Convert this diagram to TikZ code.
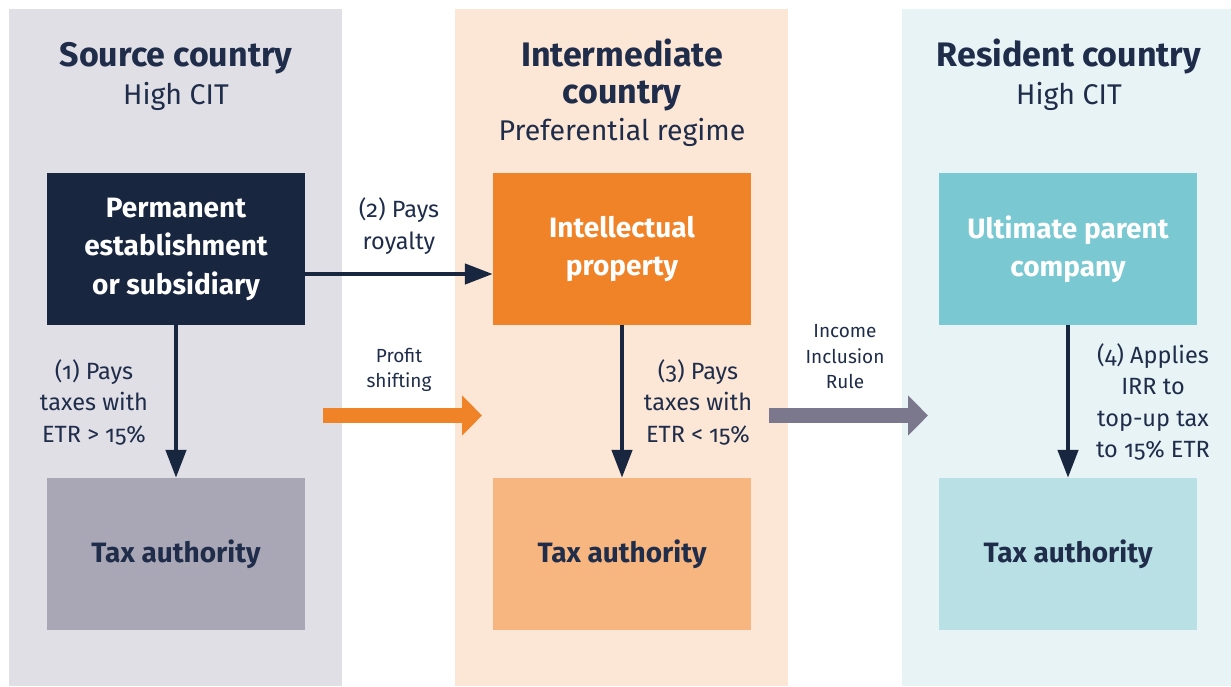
\documentclass[tikz,border=0pt]{standalone}
\usepackage{fontspec}
\setmainfont{Fira Sans}[Numbers=OldStyle]
\usepackage{tikz}
\usetikzlibrary{positioning, arrows.meta}
\definecolor{navy}{HTML}{19263F}
\definecolor{inktext}{HTML}{1F2D4A}
\definecolor{srcbg}{HTML}{E0DFE6}
\definecolor{srcta}{HTML}{A9A7B6}
\definecolor{intbg}{HTML}{FCE6D5}
\definecolor{ipbox}{HTML}{F08228}
\definecolor{intta}{HTML}{F7B67F}
\definecolor{resbg}{HTML}{E7F3F5}
\definecolor{upbox}{HTML}{7AC8D1}
\definecolor{resta}{HTML}{B8E0E5}
\definecolor{iirgray}{HTML}{7B778D}
\tikzset{entity/.style={minimum width=258pt, minimum height=152pt, inner sep=0pt, align=center, font=\bfseries\fontsize{28}{38.5}\selectfont},
         title/.style={anchor=base, text=inktext, font=\bfseries\fontsize{34}{37}\selectfont, inner sep=0pt},
         subtitle/.style={anchor=base, text=inktext, font=\fontsize{28.5}{30}\selectfont, inner sep=0pt},
         lbl/.style={align=center, text=inktext, font=\fontsize{23.5}{31.5}\selectfont, inner sep=0pt},
         smlbl/.style={align=center, text=inktext, font=\fontsize{19}{25.5}\selectfont, inner sep=0pt},
         pays/.style={draw=navy, line width=4.5pt, -{Triangle[length=28pt, width=20pt]}},
         fat/.style={line width=15pt, -{Triangle[length=20pt, width=39pt]}}}
\begin{document}
\begin{tikzpicture}[x=1pt, y=-1pt]
                \useasboundingbox (0,0) rectangle (1231,686);

                % country columns
                \fill[srcbg] (9,9) rectangle (342,686);
                \fill[intbg] (455,9) rectangle (788,686);
                \fill[resbg] (902,9) rectangle (1231,686);

                \node[title] (srctitle) at (176,66) {Source country};
                \node[subtitle] (srcsub) at (176,104) {High CIT};
                \node[title] (inttitle) at (622,66) {Intermediate};
                \node[title] (inttitle2) at (622,103) {country};
                \node[subtitle] (intsub) at (622,140) {Preferential regime};
                \node[title] (restitle) at (1069,66) {Resident country};
                \node[subtitle] (ressub) at (1069,104) {High CIT};

                % entities
                \node[entity, fill=navy, text=white] (pe) at (176,249) {Permanent\\establishment\\or subsidiary};
                \node[entity, fill=srcta, text=inktext] (srcta) at (176,554) {Tax authority};
                \node[entity, fill=ipbox, text=white] (ip) at (622,249) {Intellectual\\property};
                \node[entity, fill=intta, text=inktext] (intta) at (622,554) {Tax authority};
                \node[entity, fill=upbox, text=white] (upc) at (1068,249) {Ultimate parent\\company};
                \node[entity, fill=resta, text=inktext] (resta) at (1068,554) {Tax authority};

                % flows
                \draw[pays] ([yshift=-25pt]pe.east) -- ([yshift=-25pt]ip.west);
                \draw[pays] (pe.south) -- (srcta.north);
                \draw[pays] (ip.south) -- (intta.north);
                \draw[pays] (upc.south) -- (resta.north);

                \coordinate (psfrom) at (323,415.5);
                \coordinate (psto) at (482,415.5);
                \coordinate (iirfrom) at (769,415.5);
                \coordinate (iirto) at (928,415.5);
                \draw[fat, draw=ipbox, fill=ipbox] (psfrom) -- (psto);
                \draw[fat, draw=iirgray, fill=iirgray] (iirfrom) -- (iirto);

                % labels
                \node[lbl] (royalty) at (399,226) {(2) Pays\\royalty};
                \node[lbl] (paysone) at (94,402) {(1) Pays\\taxes with\\ETR > 15\%};
                \node[lbl] (paysthree) at (698,402) {(3) Pays\\taxes with\\ETR < 15\%};
                \node[lbl] (applies) at (1153,402) {(4) Applies\\IRR to\\top-up tax\\to 15\% ETR};
                \node[smlbl] (shifting) at (399,370) {Profit\\shifting};
                \node[smlbl] (iirlbl) at (845,357) {Income\\Inclusion\\Rule};

\end{tikzpicture}
\end{document}
